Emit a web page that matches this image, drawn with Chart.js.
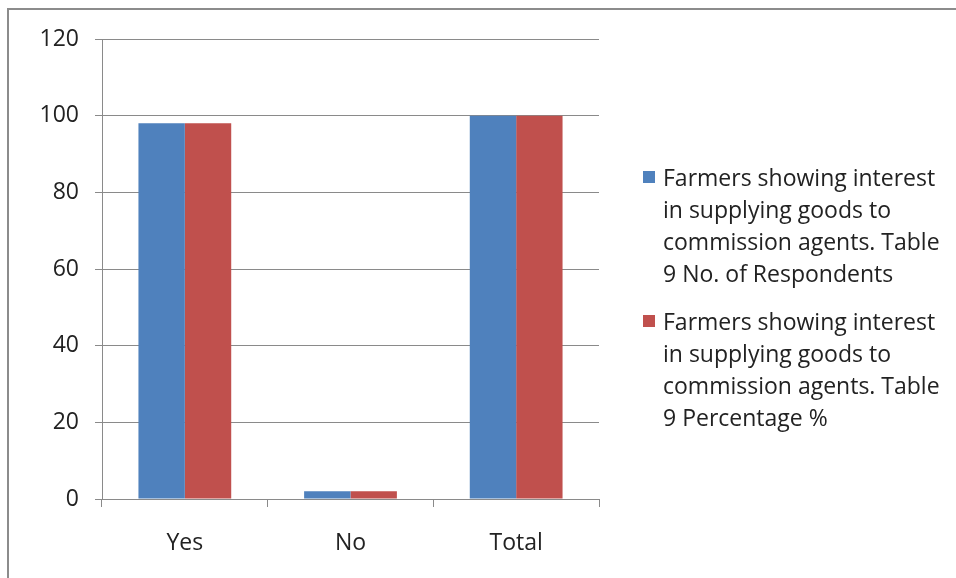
<!DOCTYPE html>
<html>
<head>
<meta charset="utf-8">
<script src="https://cdn.jsdelivr.net/npm/chart.js@4/dist/chart.umd.min.js"></script>
<style>
  html, body { margin: 0; padding: 0; background: #fff; }
  #wrap { position: relative; width: 956px; height: 578px; overflow: hidden; }
  #frame { position: absolute; left: 7px; top: 8px; width: 990px; height: 600px; border: 2px solid #8c8c8c; box-sizing: border-box; }
  #chart { position: absolute; left: 0; top: 0; }
  #legend { position: absolute; left: 641px; top: 161px; width: 314px; font-family: "Open Sans", sans-serif; font-size: 23px; line-height: 32px; color: #222; white-space: nowrap; }
  .item { position: relative; padding-left: 22px; margin-bottom: 16px; }
  .box { position: absolute; left: 2px; top: 10px; width: 12px; height: 12px; }
</style>
</head>
<body>
<div id="wrap">
  <div id="frame"></div>
  <canvas id="chart" width="956" height="578"></canvas>
  <div id="legend"></div>
</div>
<script>
// ----- data -----
const categories = ["Yes", "No", "Total"];
const respondents = [98, 2, 100];
const percentage = [98, 2, 100];
const yTicks = [0, 20, 40, 60, 80, 100, 120];
// legend names, split the way they wrap in the legend box
const seriesNames = [
  ["Farmers showing interest", "in supplying goods to", "commission agents. Table", "9 No. of Respondents"],
  ["Farmers showing interest", "in supplying goods to", "commission agents. Table", "9 Percentage %"]
];
const seriesColors = ["#4f81bd", "#c0504d"];

const axisGray = "#8a8a8a";
const tickFont = { family: "'Open Sans', sans-serif", size: 23 };

// ----- chart -----
const ctx = document.getElementById('chart').getContext('2d');
const chart = new Chart(ctx, {
  type: 'bar',
  data: {
    labels: categories,
    datasets: [
      { label: seriesNames[0].join(' '), data: respondents, backgroundColor: seriesColors[0] },
      { label: seriesNames[1].join(' '), data: percentage, backgroundColor: seriesColors[1] }
    ]
  },
  options: {
    responsive: false,
    animation: false,
    layout: { padding: { left: 0, right: 357, top: 39, bottom: 0 } },
    plugins: { legend: { display: false }, tooltip: { enabled: false } },
    datasets: { bar: { categoryPercentage: 0.56, barPercentage: 1.0 } },
    scales: {
      x: {
        grid: { display: true, drawOnChartArea: false, drawTicks: true, tickLength: 8, color: axisGray, offset: true },
        border: { color: axisGray },
        ticks: { font: tickFont, color: "#222", padding: 23 },
        afterFit: function (scale) { scale.height = 79; }
      },
      y: {
        min: 0,
        max: 120,
        afterBuildTicks: function (scale) { scale.ticks = yTicks.map(v => ({ value: v })); },
        grid: { color: axisGray, tickLength: 7 },
        border: { color: axisGray },
        ticks: { font: tickFont, color: "#222", padding: 16 },
        afterFit: function (scale) { scale.width = 102; }
      }
    }
  }
});

// ----- legend (wrapped text) -----
const legend = document.getElementById('legend');
seriesNames.forEach((lines, i) => {
  const div = document.createElement('div');
  div.className = 'item';
  div.innerHTML = '<span class="box" style="background:' + seriesColors[i] + '"></span>' + lines.join('<br>');
  legend.appendChild(div);
});
</script>
</body>
</html>
